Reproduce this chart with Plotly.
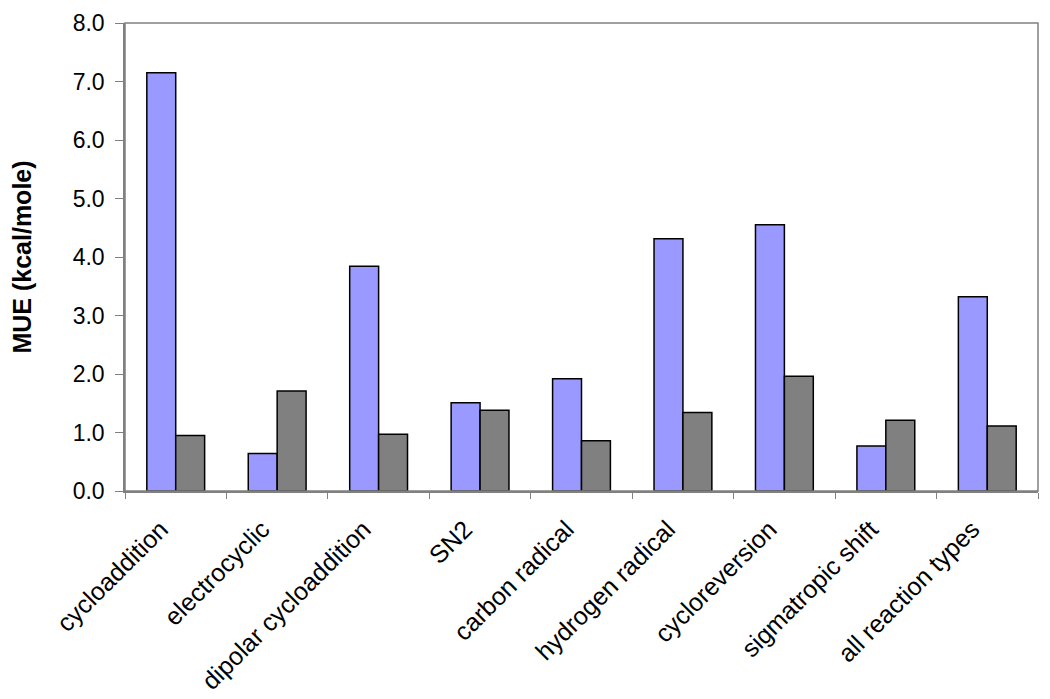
import plotly.graph_objects as go

categories = ["cycloaddition", "electrocyclic", "dipolar cycloaddition", "SN2",
              "carbon radical", "hydrogen radical", "cycloreversion",
              "sigmatropic shift", "all reaction types"]
series_a = [7.15, 0.64, 3.84, 1.51, 1.92, 4.31, 4.55, 0.77, 3.32]
series_b = [0.95, 1.71, 0.97, 1.38, 0.86, 1.34, 1.96, 1.21, 1.11]
y_ticks = [0, 1, 2, 3, 4, 5, 6, 7, 8]

fig = go.Figure()
fig.add_trace(go.Bar(x=categories, y=series_a, name="A",
                     marker=dict(color="#9999FF", line=dict(color="#000000", width=1.5))))
fig.add_trace(go.Bar(x=categories, y=series_b, name="B",
                     marker=dict(color="#808080", line=dict(color="#000000", width=1.5))))

fig.update_layout(
    width=1050, height=699,
    margin=dict(l=117, r=20, t=15, b=216),
    paper_bgcolor="white", plot_bgcolor="white",
    barmode="group", bargap=0.43, bargroupgap=0,
    showlegend=False,
    font=dict(family="Liberation Sans, Arial", size=23, color="#000000"),
)
fig.update_yaxes(
    range=[0, 8], tickvals=y_ticks, tickformat=".1f",
    showgrid=False, showline=True, linecolor="#808080", linewidth=1.5,
    ticks="outside", ticklen=8, tickcolor="#808080", ticklabelstandoff=6,
    mirror=False, zeroline=False, automargin=False,
    title=dict(text="<b>MUE (kcal/mole)</b>", font=dict(size=25), standoff=43),
    tickfont=dict(size=23),
)
fig.update_xaxes(
    showline=True, linecolor="#808080", linewidth=1.5, automargin=False,
    tickangle=-45, ticks="outside", ticklen=6, tickcolor="#808080",
    tickson="boundaries", tickfont=dict(size=25),
    ticklabelstandoff=12, ticklabelshift=-15,
)
# plot border on top and right
fig.add_shape(type="rect", xref="paper", yref="paper", x0=0, y0=0, x1=1, y1=1,
              line=dict(color="#808080", width=1.5), layer="above")

fig.write_html("out.html")
